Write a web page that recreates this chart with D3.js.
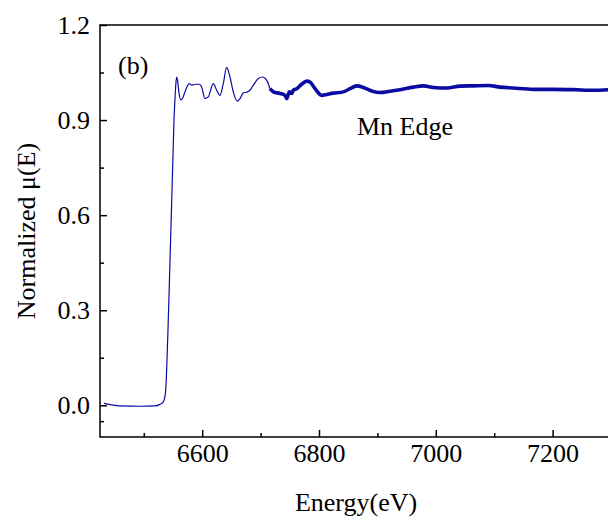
<!DOCTYPE html>
<html>
<head>
<meta charset="utf-8">
<script src="https://cdn.jsdelivr.net/npm/d3@7"></script>
<style>
  html, body { margin: 0; padding: 0; background: #fff; }
  svg { display: block; }
  svg text { font-family: "Liberation Serif", "DejaVu Serif", "Times New Roman", Times, serif !important; fill: #000; }
</style>
</head>
<body>
<svg id="chart" width="608" height="518"></svg>
<script>
// Energy (eV) and normalized absorption
const energy = [6431.8, 6459, 6493.5, 6519, 6527.7, 6532.9, 6536.3, 6538, 6539.7, 6541.4, 6543.2, 6544.9,
  6546.6, 6548.3, 6550, 6551.7, 6553.4, 6555.1, 6556.3, 6557.7, 6560.3, 6563.2, 6566.3, 6570.5, 6577.9,
  6582, 6587.7, 6595, 6599.1, 6604.8, 6610.4, 6619, 6624.8, 6630.5, 6636.1, 6641.9, 6647.6, 6653.3,
  6660.1, 6664.7, 6670.4, 6676.2, 6681.8, 6687.5, 6696.1, 6703.6, 6710.4, 6716.1,
  6721.8, 6733.2, 6741.8, 6744.7, 6749.2, 6753.3, 6756, 6761.8, 6770.4, 6779, 6784.6, 6793.2, 6804.6,
  6813.2, 6824.5, 6841.6, 6853, 6864.5, 6875.8, 6890.2, 6904.5, 6921.6, 6938.7, 6961.5, 6978.6, 6995.8,
  7018.7, 7041.5, 7064.2, 7090, 7110, 7132.7, 7167, 7201.2, 7235.5, 7269.7, 7298];
const muE = [0.006, -0.002, -0.003, -0.002, 0.003, 0.009, 0.028, 0.063, 0.142, 0.237, 0.347, 0.458,
  0.568, 0.678, 0.789, 0.899, 0.968, 1.019, 1.036, 1.026, 0.985, 0.964, 0.968, 0.989, 1.015,
  1.010, 1.013, 1.013, 1.004, 0.968, 0.973, 1.015, 0.994, 0.978, 1.015, 1.066, 1.036, 0.988,
  0.960, 0.968, 0.986, 0.988, 0.994, 1.010, 1.031, 1.036, 1.026, 0.999,
  0.989, 0.984, 0.978, 0.968, 0.989, 0.984, 0.994, 0.999, 1.013, 1.023, 1.020, 0.999, 0.978,
  0.981, 0.985, 0.989, 0.999, 1.008, 1.003, 0.992, 0.987, 0.991, 0.996, 1.004, 1.008, 1.003,
  1.001, 1.007, 1.008, 1.009, 1.004, 1.001, 0.997, 0.997, 0.996, 0.994, 0.996];
const thickFrom = 6716.1; // the noisy, thicker part of the scan starts here
const xMajorTicks = [6600, 6800, 7000, 7200];
const xMinorTicks = [6500, 6700, 6900, 7100, 7300];
const yMajorTicks = [0.0, 0.3, 0.6, 0.9, 1.2];
const yMinorTicks = [-0.05, 0.15, 0.45, 0.75, 1.05];
const xTitle = "Energy(eV)";
const yTitle = "Normalized \u03BC(E)";
const panelLabel = "(b)";
const edgeLabel = "Mn Edge";

const FONT = "'Liberation Serif', 'DejaVu Serif', 'Times New Roman', serif";
const svg = d3.select("#chart");
const mLeft = 100, mRight = 611, mTop = 25, mBottom = 437;
const x = d3.scaleLinear().domain([6425, 7300]).range([mLeft, mRight]);
const y = d3.scaleLinear().domain([-0.1, 1.2]).range([mBottom, mTop]);
const fs = 26;
const color = "#0b0ba3";

const pts = energy.map((e, i) => ({e, m: muE[i]}));
const line = d3.line().x(d => x(d.e)).y(d => y(d.m)).curve(d3.curveMonotoneX);

svg.append("clipPath").attr("id", "clip")
  .append("rect").attr("x", mLeft).attr("y", mTop).attr("width", mRight - mLeft).attr("height", mBottom - mTop);
const g = svg.append("g").attr("clip-path", "url(#clip)");
g.append("path").datum(pts.filter(d => d.e <= thickFrom))
  .attr("d", line).attr("fill", "none").attr("stroke", color).attr("stroke-width", 1.2);
g.append("path").datum(pts.filter(d => d.e >= thickFrom))
  .attr("d", line).attr("fill", "none").attr("stroke", color).attr("stroke-width", 3.6)
  .attr("stroke-linejoin", "round");

// Frame (top + left + bottom)
svg.append("path")
  .attr("d", `M${mRight},${mTop}H${mLeft}V${mBottom}H${mRight}`)
  .attr("fill", "none").attr("stroke", "#000").attr("stroke-width", 1.5);

// X axis
const xMaj = svg.append("g").attr("transform", `translate(0,${mBottom})`)
  .call(d3.axisBottom(x).tickValues(xMajorTicks).tickSize(-7).tickSizeOuter(0).tickPadding(7).tickFormat(d3.format("d")));
const xMin = svg.append("g").attr("transform", `translate(0,${mBottom})`)
  .call(d3.axisBottom(x).tickValues(xMinorTicks).tickSize(-4).tickSizeOuter(0).tickFormat(""));
// Y axis
const yMaj = svg.append("g").attr("transform", `translate(${mLeft},0)`)
  .call(d3.axisLeft(y).tickValues(yMajorTicks).tickSize(-7).tickSizeOuter(0).tickPadding(10).tickFormat(d3.format(".1f")));
const yMin = svg.append("g").attr("transform", `translate(${mLeft},0)`)
  .call(d3.axisLeft(y).tickValues(yMinorTicks).tickSize(-4).tickSizeOuter(0).tickFormat(""));

[xMaj, xMin, yMaj, yMin].forEach(a => {
  a.attr("font-family", FONT).attr("font-size", fs);
  a.select(".domain").remove();
  a.selectAll("line").attr("stroke", "#000").attr("stroke-width", 1.5);
  a.selectAll("text").attr("font-family", FONT).attr("font-size", fs).attr("fill", "#000");
});

svg.append("text").attr("x", (mLeft + 608) / 2 + 2).attr("y", 511).attr("font-family", FONT)
  .attr("text-anchor", "middle").attr("font-size", fs).text(xTitle);
svg.append("text").attr("transform", `translate(35,${(mTop + mBottom) / 2}) rotate(-90)`).attr("font-family", FONT)
  .attr("text-anchor", "middle").attr("font-size", fs).text(yTitle);
svg.append("text").attr("x", 118).attr("y", 74).attr("font-family", FONT).attr("font-size", fs).text(panelLabel);
svg.append("text").attr("x", 357).attr("y", 135).attr("font-family", FONT).attr("font-size", fs).text(edgeLabel);
</script>
</body>
</html>
